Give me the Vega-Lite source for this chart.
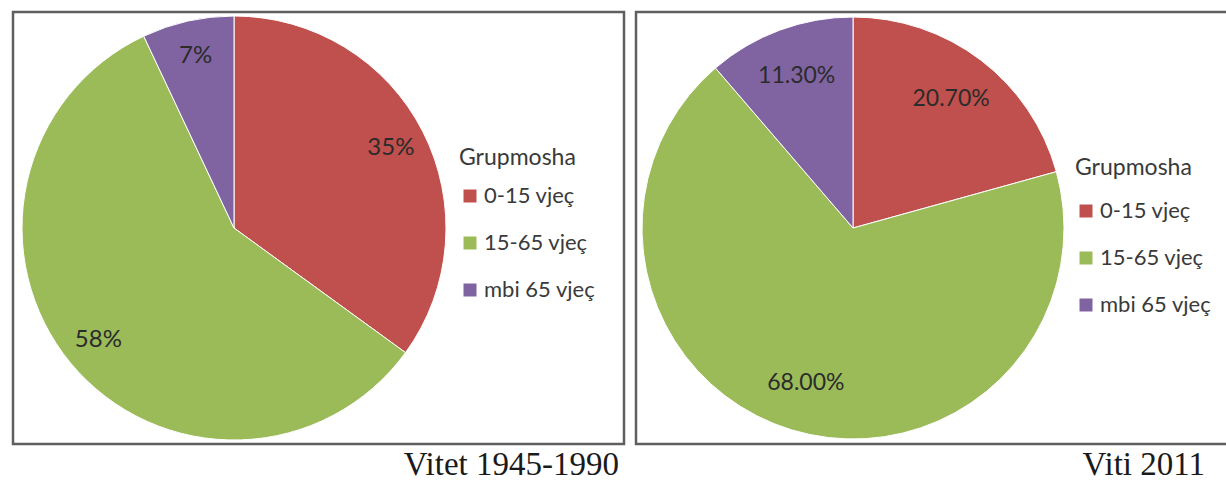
{
  "$schema": "https://vega.github.io/schema/vega-lite/v6.json",
  "background": "white",
  "padding": {"left": 11, "top": 10, "right": 0, "bottom": 0},
  "spacing": 8,
  "config": {
    "view": {"stroke": "#5f5f5f", "strokeWidth": 2.5},
    "font": "Lato",
    "title": {"font": "Liberation Serif", "fontSize": 33, "fontWeight": "normal", "color": "#1a1a1a", "orient": "bottom", "anchor": "end", "offset": 5},
    "legend": {
      "orient": "none",
      "titleFont": "Lato", "titleFontSize": 23, "titleFontWeight": "normal", "titleColor": "#3a3a3a", "titlePadding": 15,
      "labelFont": "Lato", "labelFontSize": 22, "labelColor": "#3a3a3a", "labelOffset": 3,
      "symbolType": "square", "symbolSize": 169, "symbolStrokeWidth": 0, "symbolOpacity": 1,
      "rowPadding": 25
    }
  },
  "hconcat": [
    {
      "width": 611,
      "height": 432,
      "title": {"text": "Vitet 1945-1990", "dx": -5},
      "data": {"values": [
        {"group": "0-15 vjeç", "share": 35, "label": "35%"},
        {"group": "15-65 vjeç", "share": 58, "label": "58%"},
        {"group": "mbi 65 vjeç", "share": 7, "label": "7%"}
      ]},
      "encoding": {
        "theta": {"field": "share", "type": "quantitative", "stack": true},
        "order": {"field": "group", "type": "nominal", "sort": "ascending"},
        "x": {"datum": 221, "type": "quantitative", "scale": {"domain": [0, 611], "nice": false, "zero": false}, "axis": null}
      },
      "layer": [
        {"mark": {"type": "arc", "outerRadius": 212, "stroke": "white", "strokeWidth": 1},
         "encoding": {"color": {"field": "group", "type": "nominal",
          "scale": {"domain": ["0-15 vjeç", "15-65 vjeç", "mbi 65 vjeç"], "range": ["#C0504D", "#9BBB59", "#8064A2"]},
          "legend": {"title": "Grupmosha", "legendX": 446, "legendY": 135}}}},
        {"mark": {"type": "text", "radius": 176, "fontSize": 24, "font": "Lato", "fill": "#2b2b2b"},
         "encoding": {"text": {"field": "label"}, "detail": {"field": "group"}}}
      ]
    },
    {
      "width": 594,
      "height": 432,
      "title": {"text": "Viti 2011", "dx": -25},
      "data": {"values": [
        {"group": "0-15 vjeç", "share": 20.7, "label": "20.70%"},
        {"group": "15-65 vjeç", "share": 68.0, "label": "68.00%"},
        {"group": "mbi 65 vjeç", "share": 11.3, "label": "11.30%"}
      ]},
      "encoding": {
        "theta": {"field": "share", "type": "quantitative", "stack": true},
        "order": {"field": "group", "type": "nominal", "sort": "ascending"},
        "x": {"datum": 217, "type": "quantitative", "scale": {"domain": [0, 594], "nice": false, "zero": false}, "axis": null}
      },
      "layer": [
        {"mark": {"type": "arc", "outerRadius": 211, "stroke": "white", "strokeWidth": 1},
         "encoding": {"color": {"field": "group", "type": "nominal",
          "scale": {"domain": ["0-15 vjeç", "15-65 vjeç", "mbi 65 vjeç"], "range": ["#C0504D", "#9BBB59", "#8064A2"]},
          "legend": {"title": "Grupmosha", "legendX": 439, "legendY": 145, "titlePadding": 20}}}},
        {"mark": {"type": "text", "radius": 162, "fontSize": 23, "font": "Lato", "fill": "#2b2b2b"},
         "encoding": {"text": {"field": "label"}, "detail": {"field": "group"}}}
      ]
    }
  ],
  "resolve": {"scale": {"x": "independent", "color": "independent"}, "legend": {"color": "independent"}}
}
